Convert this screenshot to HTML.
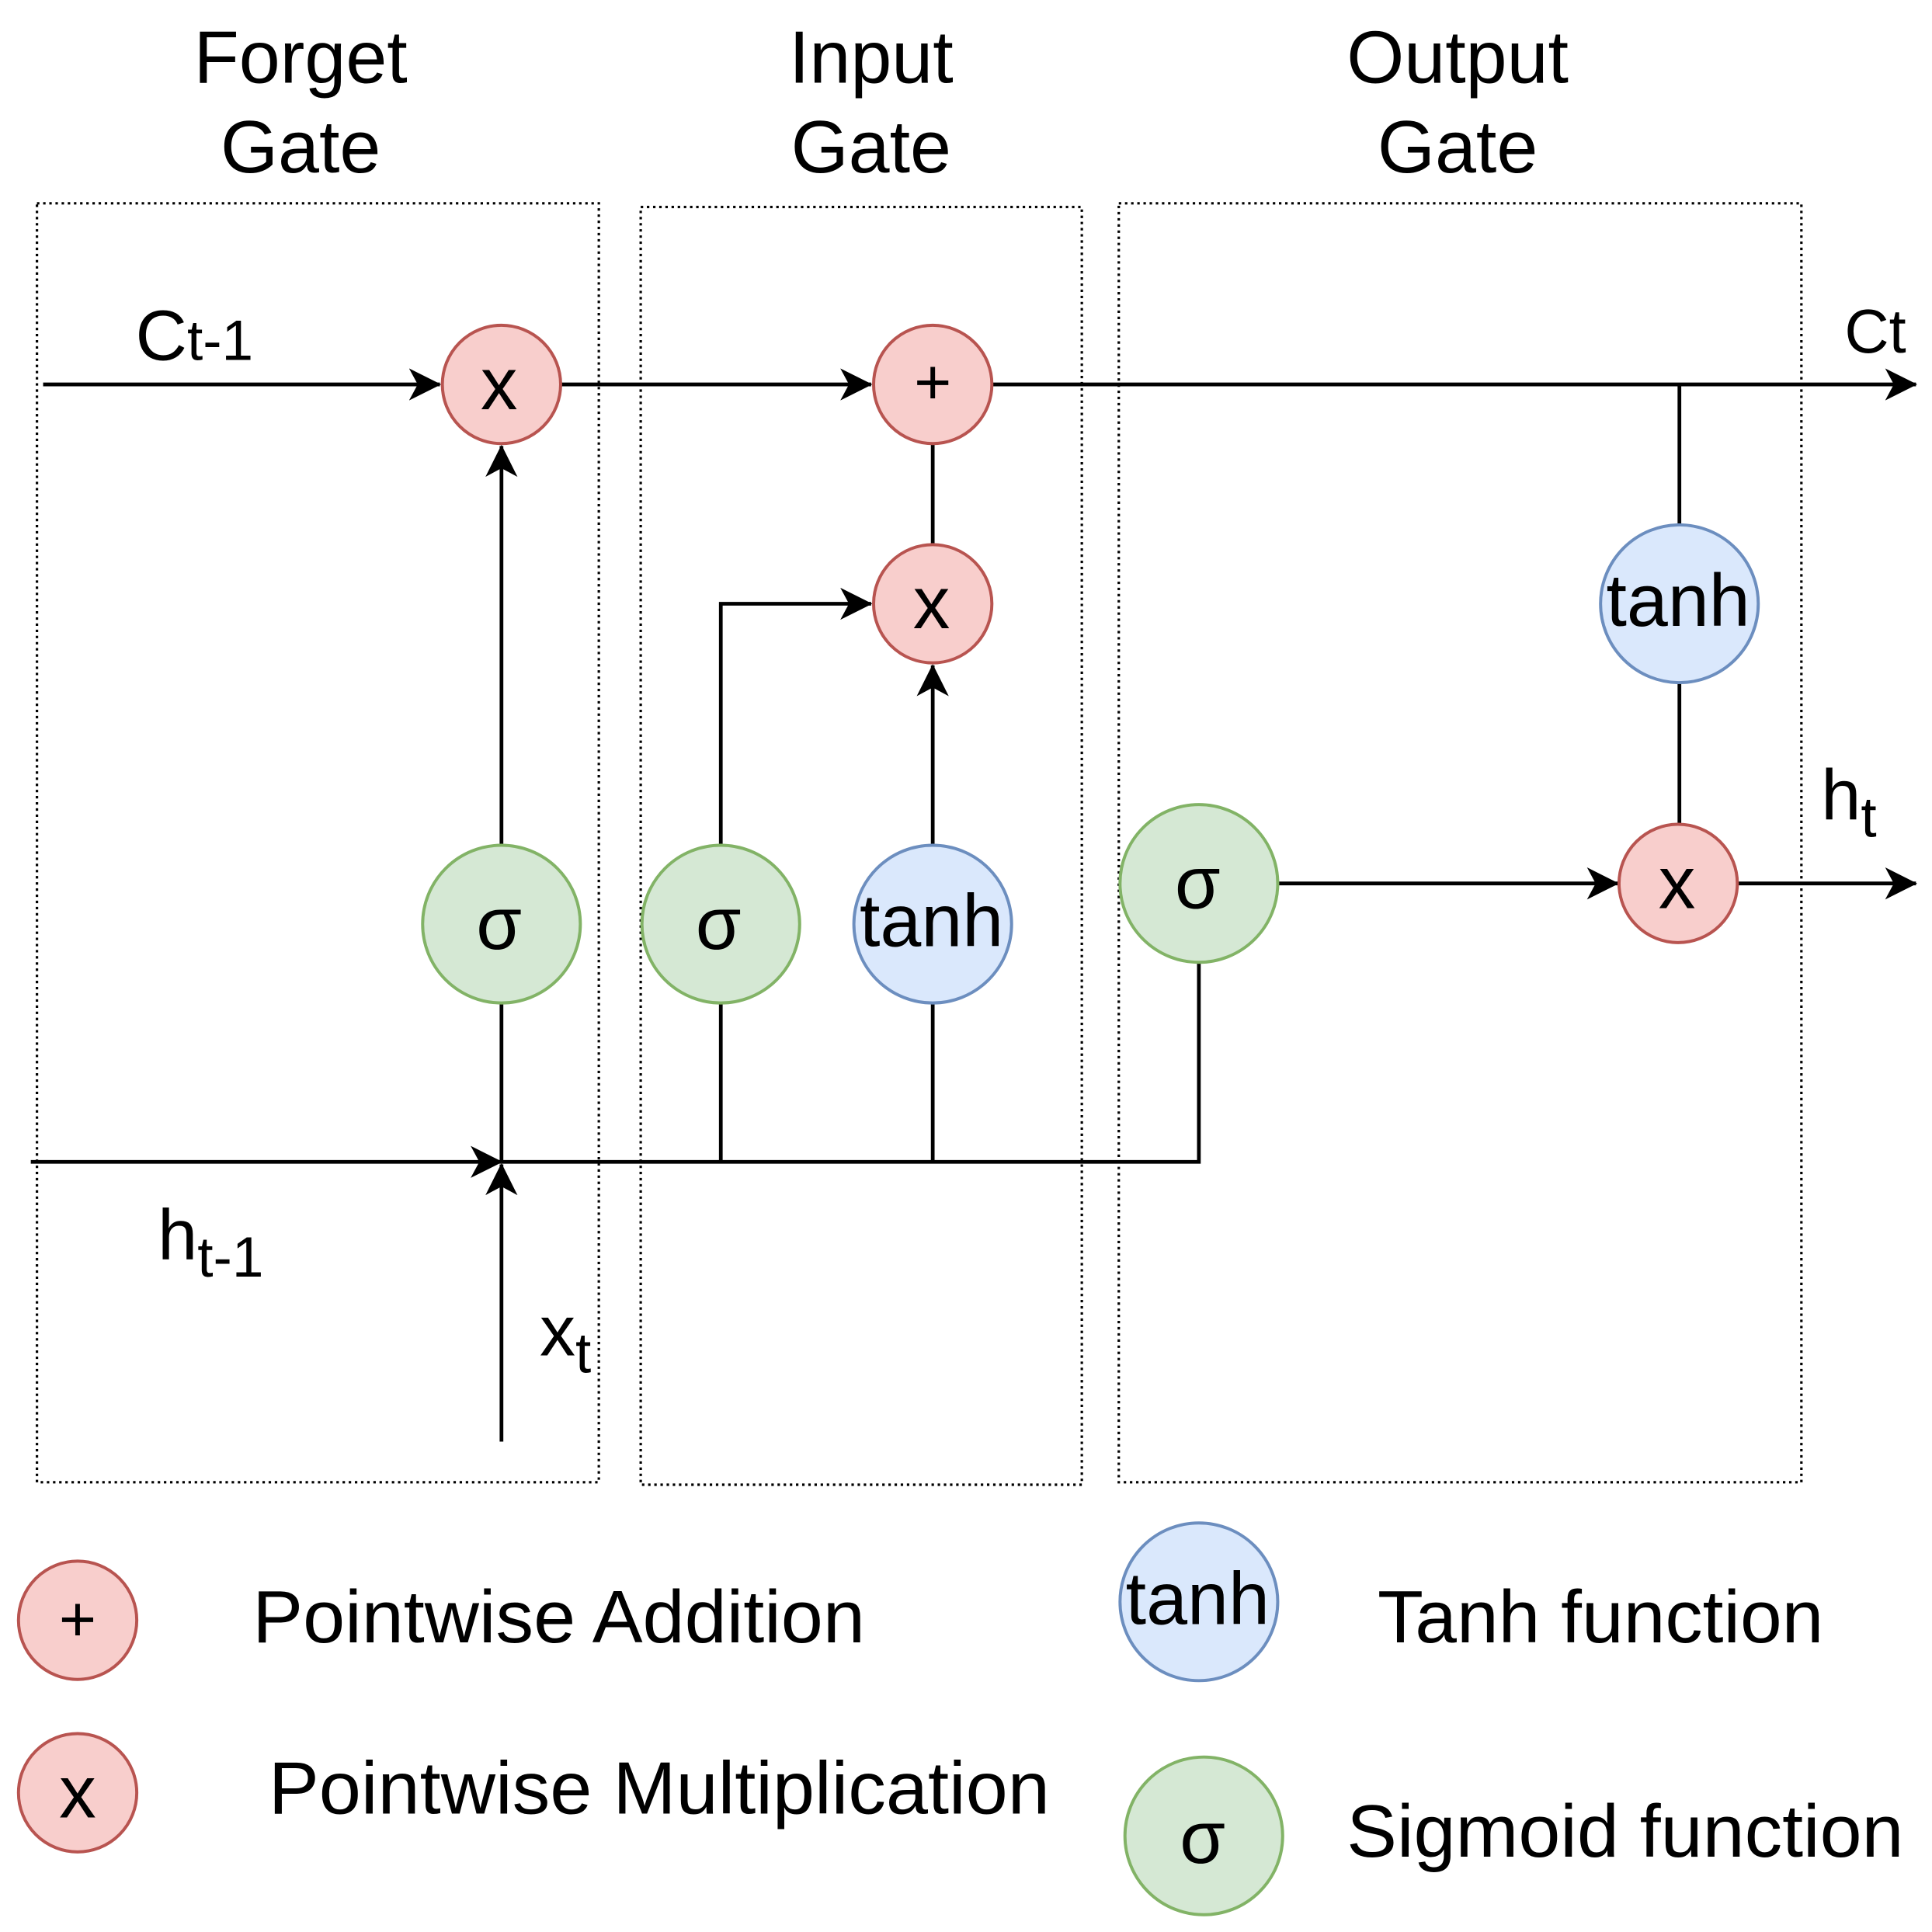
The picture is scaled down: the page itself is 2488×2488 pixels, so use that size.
<!DOCTYPE html>
<html><head><meta charset="utf-8"><style>html,body{margin:0;padding:0;background:#fff}svg{display:block}</style></head>
<body>
<svg width="2488" height="2488" viewBox="0 0 1568 1568" xmlns="http://www.w3.org/2000/svg" font-family="Liberation Sans, sans-serif">
<defs>
<marker id="b" markerWidth="26" markerHeight="26" refX="25" refY="13" orient="auto" markerUnits="userSpaceOnUse" viewBox="0 0 26 26">
<path d="M0,0 L26,13 L0,26 L7,13 Z" fill="#000"/></marker>
</defs>
<g font-size="60" text-anchor="middle" fill="#000">
<text x="244" y="67">Forget</text><text x="244" y="140">Gate</text>
<text x="707" y="67">Input</text><text x="707" y="140">Gate</text>
<text x="1183" y="67">Output</text><text x="1183" y="140">Gate</text>
</g>
<g fill="none" stroke="#000" stroke-width="2" stroke-dasharray="2,3">
<rect x="30" y="165" width="456" height="1038"/>
<rect x="520" y="168" width="358" height="1037"/>
<rect x="908" y="165" width="554" height="1038"/>
</g>
<g stroke="#000" stroke-width="3" fill="none">
<line x1="35" y1="312" x2="357" y2="312" marker-end="url(#b)"/>
<line x1="455" y1="312" x2="707" y2="312" marker-end="url(#b)"/>
<line x1="805" y1="312" x2="1555" y2="312" marker-end="url(#b)"/>
<line x1="407" y1="686" x2="407" y2="362" marker-end="url(#b)"/>
<line x1="757" y1="360" x2="757" y2="442"/>
<polyline points="585,686 585,490 707,490" marker-end="url(#b)"/>
<line x1="757" y1="686" x2="757" y2="540" marker-end="url(#b)"/>
<line x1="1038" y1="717" x2="1313" y2="717" marker-end="url(#b)"/>
<line x1="1411" y1="717" x2="1555" y2="717" marker-end="url(#b)"/>
<line x1="1363" y1="312" x2="1363" y2="426"/>
<line x1="1363" y1="554" x2="1363" y2="669"/>
<line x1="25" y1="943" x2="407" y2="943" marker-end="url(#b)"/>
<polyline points="407,943 973,943 973,782"/>
<line x1="407" y1="943" x2="407" y2="814"/>
<line x1="585" y1="943" x2="585" y2="814"/>
<line x1="757" y1="943" x2="757" y2="814"/>
<line x1="407" y1="1170" x2="407" y2="945" marker-end="url(#b)"/>
</g>
<g stroke-width="2.5">
<g fill="#f8cecc" stroke="#b85450">
<circle cx="407" cy="312" r="48"/><circle cx="757" cy="312" r="48"/><circle cx="757" cy="490" r="48"/>
<circle cx="1362" cy="717" r="48"/><circle cx="63" cy="1315" r="48"/><circle cx="63" cy="1455" r="48"/>
</g>
<g fill="#d5e8d4" stroke="#82b366">
<circle cx="407" cy="750" r="64"/><circle cx="585" cy="750" r="64"/><circle cx="973" cy="717" r="64"/><circle cx="977" cy="1490" r="64"/>
</g>
<g fill="#dae8fc" stroke="#6c8ebf">
<circle cx="757" cy="750" r="64"/><circle cx="1363" cy="490" r="64"/><circle cx="973" cy="1300" r="64"/>
</g>
</g>
<g font-size="60" text-anchor="middle" fill="#000">
<text x="405" y="332">x</text><text x="757" y="328" font-size="52">+</text><text x="756" y="510">x</text><text x="1361" y="737">x</text>
<text x="63" y="1332" font-size="52">+</text><text x="63" y="1475">x</text>
<text x="405" y="770">σ</text><text x="583" y="770">σ</text><text x="972" y="737">σ</text><text x="976" y="1512">σ</text>
<text x="756" y="768">tanh</text><text x="1362" y="508">tanh</text><text x="972" y="1318">tanh</text>
</g>
<g font-size="58" fill="#000">
<text x="110" y="292">C<tspan font-size="46">t-1</tspan></text>
<text x="1497" y="286" font-size="50">Ct</text>
<text x="1478" y="665">h<tspan font-size="46" dy="14">t</tspan></text>
<text x="128" y="1022">h<tspan font-size="46" dy="14">t-1</tspan></text>
<text x="438" y="1100">x<tspan font-size="46" dy="14">t</tspan></text>
<text x="205" y="1333" font-size="60" textLength="497" lengthAdjust="spacingAndGlyphs">Pointwise Addition</text>
<text x="218" y="1472" font-size="60" textLength="634" lengthAdjust="spacingAndGlyphs">Pointwise Multiplication</text>
<text x="1118" y="1333" font-size="60" textLength="362" lengthAdjust="spacingAndGlyphs">Tanh function</text>
<text x="1093" y="1507" font-size="60" textLength="452" lengthAdjust="spacingAndGlyphs">Sigmoid function</text>
</g>
</svg>
</body></html>
